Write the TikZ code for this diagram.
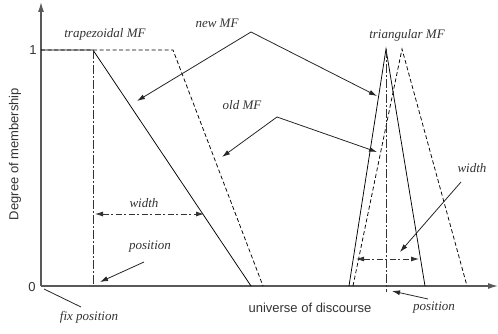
\documentclass[tikz,border=0pt]{standalone}
\usepackage{fontspec}
\setmainfont{Liberation Serif}
\setsansfont{Liberation Sans}
\usetikzlibrary{arrows.meta}
\begin{document}
\begin{tikzpicture}[x=1pt,y=-1pt,
  lab/.style={font=\fontsize{13}{15}\selectfont\itshape, text=black!80, inner sep=0pt},
  slab/.style={font=\sffamily\fontsize{13}{15}\selectfont, text=black!80, inner sep=0pt},
  axis/.style={draw=black!65, line width=1.2pt, -{Latex[length=10pt,width=6pt]}},
  mf/.style={draw=black, line width=0.75pt},
  oldmf/.style={mf, dash pattern=on 4pt off 2.5pt},
  dd/.style={draw=black!80, line width=0.8pt, dash pattern=on 9pt off 2pt on 2pt off 2pt},
  ddarrow/.style={draw=black!80, line width=0.8pt, dash pattern=on 6pt off 2.5pt on 2pt off 2.5pt, {Latex[length=8pt,width=5pt]}-{Latex[length=8pt,width=5pt]}},
  pt/.style={draw=black!85, line width=0.8pt, -{Latex[length=8pt,width=5pt]}},
  ]
\useasboundingbox (0,0) rectangle (498,334);
% axes
\coordinate (O) at (41,286);
\coordinate (ytop) at (41,2);
\coordinate (xend) at (498,286);
\draw[axis] (O) -- (ytop);
\draw[axis] (O) -- (xend);
\node[slab] (one) at (33,50) {1};
\node[slab] (zero) at (32,287) {0};
\node[slab, rotate=90] (ylab) at (15,154) {Degree of membership};
\node[slab] (xlab) at (310,308) {universe of discourse};

% trapezoidal MFs
\coordinate (t0) at (41,50);
\coordinate (tn1) at (93,50);
\coordinate (tn2) at (251,286);
\coordinate (to1) at (173,50);
\coordinate (to2) at (263,286);
\coordinate (tb) at (93,286);
\draw[mf] (t0) -- (tn1) -- (tn2);
\draw[oldmf] (t0) -- (to1) -- (to2);
\draw[dd] (tn1) -- (tb);
\coordinate (tw1) at (95,214);
\coordinate (tw2) at (204,214);
\draw[ddarrow] (tw1) -- (tw2);

% triangular MFs
\coordinate (rn0) at (349,286);
\coordinate (rn1) at (386,49);
\coordinate (rn2) at (425,286);
\coordinate (ro0) at (353,286);
\coordinate (ro1) at (402,49);
\coordinate (ro2) at (467,286);
\coordinate (rb) at (386,292);
\draw[mf] (rn0) -- (rn1) -- (rn2);
\draw[oldmf] (ro0) -- (ro1) -- (ro2);
\draw[dd] (rn1) -- (rb);
\coordinate (rw1) at (356,259);
\coordinate (rw2) at (419,259);
\draw[ddarrow] (rw1) -- (rw2);

% labels
\node[lab] (trap) at (105,34) {trapezoidal MF};
\node[lab] (newmf) at (217,23) {new MF};
\node[lab] (tri) at (407,35) {triangular MF};
\node[lab] (oldmf) at (242,105) {old MF};
\node[lab] (twidth) at (144,203) {width};
\node[lab] (tpos) at (150,247) {position};
\node[lab] (fixpos) at (89,317) {fix position};
\node[lab] (rwidth) at (472,168) {width};
\node[lab] (rpos) at (434,308) {position};

% pointers
\coordinate (napex) at (251,32);
\coordinate (nA) at (137,101);
\coordinate (nB) at (377,96);
\draw[pt] (napex) -- (nA);
\draw[pt] (napex) -- (nB);
\coordinate (oapex) at (277,117);
\coordinate (oA) at (222,157);
\coordinate (oB) at (377,152);
\draw[pt] (oapex) -- (oA);
\draw[pt] (oapex) -- (oB);
\coordinate (tp1) at (144,262);
\coordinate (tp2) at (100,282);
\draw[pt] (tp1) -- (tp2);
\coordinate (fp1) at (44,289);
\coordinate (fp2) at (81,307);
\draw[draw=black!85, line width=0.8pt] (fp1) -- (fp2);
\coordinate (rwp1) at (461,182);
\coordinate (rwp2) at (400,252);
\draw[pt] (rwp1) -- (rwp2);
\coordinate (rpp1) at (428,299);
\coordinate (rpp2) at (392,291);
\draw[pt] (rpp1) -- (rpp2);
\end{tikzpicture}
\end{document}
